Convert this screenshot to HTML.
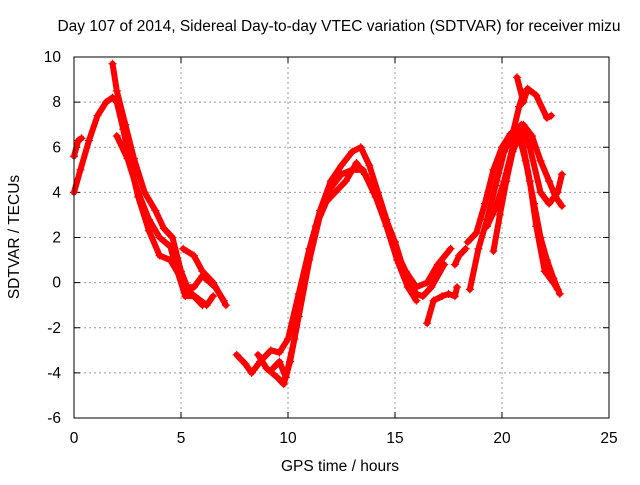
<!DOCTYPE html>
<html><head><meta charset="utf-8"><style>
body{margin:0;background:#fff}
svg text{font-family:"Liberation Sans",sans-serif;font-size:15.5px;fill:#000}
</style></head><body>
<svg id="chart" width="640" height="480" xmlns="http://www.w3.org/2000/svg">
<text x="339" y="31" text-anchor="middle">Day 107 of 2014, Sidereal Day-to-day VTEC variation (SDTVAR) for receiver mizu</text>
<text x="340" y="471" text-anchor="middle">GPS time / hours</text>
<text transform="translate(19,237) rotate(-90)" text-anchor="middle">SDTVAR / TECUs</text>
<g id="grid"></g><g id="marks"></g>
<rect x="74" y="57" width="535" height="361" fill="none" stroke="#000" stroke-width="1"/>
</svg>
<script>
const xTicks=[0,5,10,15,20,25];
const yTicks=[-6,-4,-2,0,2,4,6,8,10];
const trackNames=['A1','A2','A3','A4','A5','B1','B2','B3','B4','C1','C2','C3','C4','C5','C6','C7'];
const trackA1=[[0,4],[0.3,5],[0.7,6.3],[1.1,7.4],[1.5,8.0],[1.8,8.2],[2.0,8.0],[2.3,6.8],[2.7,5.0],[3.0,3.8],[3.5,2.3],[4.0,1.2],[4.5,1.0],[5.0,0.2],[5.5,-0.5],[6.2,-1.0],[6.5,-0.6]];
const trackA2=[[1.8,9.7],[2.0,8.5],[2.4,7.0],[2.8,5.5],[3.3,4.0],[3.8,3.2],[4.2,2.4],[4.6,2.0],[5.0,0.5],[5.3,-0.2],[5.6,-0.2],[6.0,0.3],[6.6,-0.2],[7.0,-0.8]];
const trackA3=[[2.0,6.5],[2.5,5.5],[3.0,4.0],[3.5,2.8],[4.0,2.0],[4.5,1.6],[4.8,0.6],[5.2,-0.6],[5.6,-0.6],[6.0,-1.0]];
const trackA4=[[5.1,1.5],[5.6,1.2],[6.0,0.5],[6.5,0],[7.1,-1.0]];
const trackA5=[[0,5.6],[0.2,6.3],[0.35,6.4]];
const trackB1=[[7.6,-3.2],[8.0,-3.6],[8.3,-4.0],[8.7,-3.5],[9.2,-3.0],[9.6,-3.1],[10.0,-2.5],[10.5,-0.5],[11.0,1.5],[11.5,3.2],[12.0,4.5],[12.5,5.2],[13.0,5.8],[13.4,6.0],[13.8,5.2],[14.2,4.0],[14.6,2.8],[15.0,1.5],[15.5,0.5],[16.0,-0.2],[16.5,0.0],[17.0,0.8],[17.6,1.5]];
const trackB2=[[8.6,-3.2],[9.0,-3.8],[9.5,-4.2],[9.8,-4.5],[10.1,-3.5],[10.5,-1.5],[11.0,1.0],[11.5,3.0],[12.0,4.2],[12.5,4.8],[13.0,5.0],[13.5,5.0],[14.0,4.0],[14.5,3.0],[15.0,1.8],[15.5,0.3],[16.0,-0.5],[16.3,-0.6],[16.7,-0.2],[17.3,0.8]];
const trackB3=[[9.3,-3.8],[9.6,-3.5],[9.9,-4.2],[10.3,-2.5],[10.8,0.5],[11.3,2.5],[11.8,3.6],[12.2,4.0],[12.7,4.5],[13.2,5.3],[13.6,4.8],[14.1,3.8],[14.6,2.5],[15.1,1.0],[15.6,-0.2],[16.0,-0.8]];
const trackB4=[[16.5,-1.8],[16.8,-0.8],[17.2,-0.6],[17.5,-0.5],[17.8,-0.6],[17.9,-0.2]];
const trackC1=[[17.8,0.8],[18.0,1.2],[18.3,1.5]];
const trackC2=[[18.5,-0.3],[18.9,1.5],[19.3,2.8],[19.7,4.3],[20.1,5.8],[20.5,6.6],[20.8,7.8],[21.0,8.4]];
const trackC3=[[19.6,1.4],[19.9,3.0],[20.2,4.5],[20.5,5.8],[20.8,6.5],[21.1,5.4],[21.5,3.5],[21.8,2.0],[22.1,1.0],[22.4,0.2],[22.7,-0.5]];
const trackC4=[[18.4,1.8],[18.8,2.2],[19.2,3.5],[19.6,5],[20.0,6.0],[20.4,6.6],[20.7,6.8],[21.0,6.0],[21.3,4.5],[21.6,2.5],[22.0,0.5],[22.4,0.0],[22.6,-0.3]];
const trackC5=[[20.7,9.1],[21.0,8.0],[21.2,8.6],[21.6,8.3],[22.1,7.3],[22.3,7.4]];
const trackC6=[[21.0,7.0],[21.4,6.5],[21.8,5.4],[22.2,4.5],[22.5,3.8],[22.8,3.4]];
const trackC7=[[19.3,2.5],[19.7,3.3],[20.1,4.5],[20.5,6.0],[20.9,7.0],[21.3,6.0],[21.8,4.0],[22.2,3.5],[22.6,4.0],[22.8,4.8]];
const tracks=[trackA1,trackA2,trackA3,trackA4,trackA5,trackB1,trackB2,trackB3,trackB4,trackC1,trackC2,trackC3,trackC4,trackC5,trackC6,trackC7];

const NS='http://www.w3.org/2000/svg';
const X0=74,X1=609,Y0=418,Y1=57;
function sx(t){return X0+(t-0)/(25-0)*(X1-X0);}
function sy(v){return Y0-(v-(-6))/(10-(-6))*(Y0-Y1);}
const grid=document.getElementById('grid'),marks=document.getElementById('marks');
function mk(tag,attrs,parent){const e=document.createElementNS(NS,tag);for(const k in attrs)e.setAttribute(k,attrs[k]);parent.appendChild(e);return e;}
xTicks.forEach(t=>{
  const x=sx(t);
  if(t>0&&t<25){const g=mk('line',{x1:x,x2:x,y1:Y1,y2:Y0,stroke:'#999','stroke-dasharray':'2,3'},grid);
  
  }
  mk('line',{x1:x,x2:x,y1:Y0,y2:Y0-6,stroke:'#000'},grid);
  mk('line',{x1:x,x2:x,y1:Y1,y2:Y1+6,stroke:'#000'},grid);
  const l=mk('text',{x:x,y:Y0+25,'text-anchor':'middle'},grid);l.textContent=t;
  
  
});
yTicks.forEach(v=>{
  const y=sy(v);
  if(v>-6&&v<10){const g=mk('line',{x1:X0,x2:X1,y1:y,y2:y,stroke:'#999','stroke-dasharray':'2,3'},grid);
  
  }
  mk('line',{x1:X0,x2:X0+6,y1:y,y2:y,stroke:'#000'},grid);
  mk('line',{x1:X1,x2:X1-6,y1:y,y2:y,stroke:'#000'},grid);
  const l=mk('text',{x:X0-13,y:y+5,'text-anchor':'end'},grid);l.textContent=v;
  
  
});
tracks.forEach((tr,i)=>{
  const p=mk('polyline',{points:tr.map(d=>sx(d[0])+','+sy(d[1])).join(' '),fill:'none',stroke:'#f00','stroke-width':6,'stroke-linejoin':'round','stroke-linecap':'round'},marks);
  
  
  tr.forEach(d=>{
    const x=sx(d[0]),y=sy(d[1]);
    const m=mk('path',{d:`M${x-4},${y}H${x+4}M${x},${y-4}V${y+4}`,stroke:'#f00','stroke-width':1.2},marks);
    
    
  });
});
</script>
</body></html>
